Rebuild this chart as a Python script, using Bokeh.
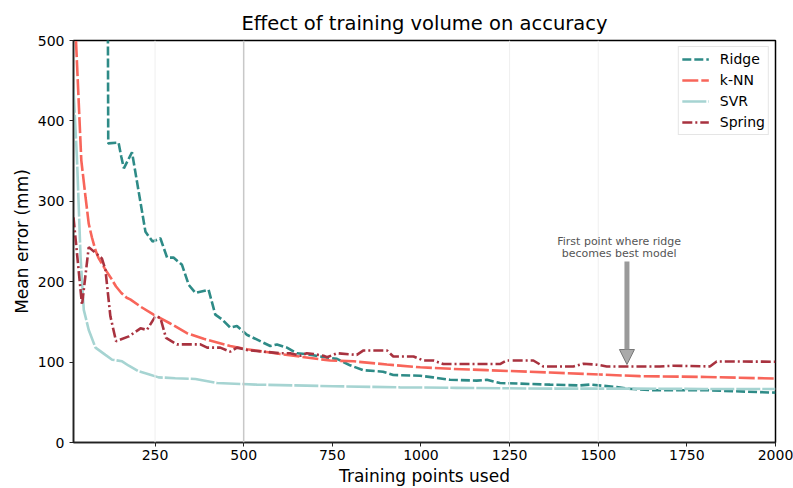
from bokeh.plotting import figure
from bokeh.models import Range1d, FixedTicker, Span, Label, Arrow, NormalHead, Legend, LegendItem
from bokeh.embed import file_html
from bokeh.resources import INLINE

# ---- data ----
ridge_x = [100, 118, 147, 155, 162, 185, 223, 243, 265, 284, 302, 326, 345, 364, 401, 420, 439, 462, 481, 509, 528,
           575, 594, 622, 650, 678, 716, 763, 800, 837, 893, 922, 998, 1034, 1082, 1157, 1186, 1223, 1364, 1449,
           1477, 1552, 1580, 1654, 1806, 2000]
ridge_y = [3000, 372, 373, 355, 341, 361, 262, 250, 254, 230, 230, 221, 196, 186, 190, 159, 153, 143, 145, 134, 130,
           120, 122, 118, 111, 110, 107, 104, 96, 90, 88, 84, 83, 81, 78, 77, 78, 74, 72, 71,
           72, 69, 67, 65, 65, 62]

knn_x = [20, 27, 42, 54, 63, 72, 82, 90, 110, 125, 140, 155, 170, 180, 209, 246, 293, 340, 387, 462, 509, 603,
         744, 810, 904, 998, 1092, 1186, 1364, 1505, 1618, 1806, 2000]
knn_y = [570, 500, 351, 305, 272, 255, 239, 230, 215, 205, 194, 186, 180, 178, 169, 159, 148, 136, 129, 120, 116, 110,
         102, 101, 97, 93.5, 91.5, 90, 87, 84.5, 82.5, 81.5, 79.5]

svr_x = [20, 30, 40, 49, 63, 82, 110, 129, 157, 176, 204, 232, 260, 307, 364, 425, 537, 753, 941, 1100, 1364,
         1600, 1800, 2000]
svr_y = [440, 351, 230, 165, 140, 118, 109, 103, 101, 95.5, 88.5, 85, 81, 80, 79, 74, 72, 70, 68.6, 68, 67,
         67, 66.5, 66.5]

spring_x = [20, 44, 63, 100, 110, 124, 140, 176, 209, 227, 251, 265, 281, 312, 378, 397, 434, 462, 481, 509, 556,
            603, 631, 660, 678, 697, 725, 735, 763, 819, 838, 904, 922, 979, 1007, 1035, 1063, 1223, 1242, 1317,
            1345, 1430, 1458, 1496, 1524, 1674, 1712, 1815, 1834, 2000]
spring_y = [280, 171, 243, 229, 215, 157, 126, 132, 142, 140, 157, 155, 130, 122, 122, 118, 118, 113, 118, 115, 113,
            111, 111, 108, 111, 110, 108, 106, 111, 109, 114.5, 114.5, 107, 107, 102, 102, 97.6, 97.6, 102, 102,
            94.6, 94.6, 98, 96.8, 94.6, 94.6, 95.5, 94.6, 100.8, 100.5]

x_ticks = [250, 500, 750, 1000, 1250, 1500, 1750, 2000]
y_ticks = [0, 100, 200, 300, 400, 500]

FONT = "DejaVu Sans"

p = figure(width=793, height=488, output_backend="svg", toolbar_location=None,
           x_range=Range1d(20, 2000), y_range=Range1d(0, 500),
           min_border_left=73, min_border_right=18, min_border_top=40, min_border_bottom=45,
           title="Effect of training volume on accuracy")
p.background_fill_color = "white"
p.border_fill_color = "white"
p.outline_line_color = "black"
p.outline_line_width = 1.5
p.xgrid.visible = False
p.ygrid.visible = False

p.title.align = "center"
p.title.text_font = FONT
p.title.text_font_size = "19.5px"
p.title.text_font_style = "normal"
p.title.text_color = "black"
p.title.standoff = 12

for ax in (p.xaxis[0], p.yaxis[0]):
    ax.axis_line_color = "#222222"
    ax.axis_line_width = 1.5
    ax.major_tick_line_color = "#222222"
    ax.major_tick_out = 4
    ax.major_tick_in = 0
    ax.minor_tick_out = 0
    ax.minor_tick_in = 0
    ax.major_label_text_font = FONT
    ax.major_label_text_font_size = "14px"
    ax.major_label_text_color = "black"
    ax.axis_label_text_font = FONT
    ax.axis_label_text_font_size = "17px"
    ax.axis_label_text_font_style = "normal"
    ax.axis_label_text_color = "black"

p.xaxis[0].ticker = FixedTicker(ticks=x_ticks)
p.yaxis[0].ticker = FixedTicker(ticks=y_ticks)
p.xaxis[0].axis_label = "Training points used"
p.yaxis[0].axis_label = "Mean error (mm)"
p.xaxis[0].major_label_standoff = 3
p.xaxis[0].axis_label_standoff = 3
p.yaxis[0].major_label_standoff = 5
p.yaxis[0].axis_label_standoff = 3

# vertical reference lines
for loc in (250, 1250, 1500):
    p.add_layout(Span(location=loc, dimension="height", line_color="#efefef", line_width=1))
p.add_layout(Span(location=500, dimension="height", line_color="#c8c8c8", line_width=1.5))

r_ridge = p.line(ridge_x, ridge_y, line_color="#2e8b87", line_width=2.6, line_dash="9 3")
r_knn = p.line(knn_x, knn_y, line_color="#f8655a", line_width=2.6, line_dash="16 3")
r_svr = p.line(svr_x, svr_y, line_color="#a6d4d2", line_width=2.6, line_dash="24 2")
r_spring = p.line(spring_x, spring_y, line_color="#a8323f", line_width=2.6, line_dash="10 3 2 3")

legend = Legend(items=[
    LegendItem(label="Ridge", renderers=[r_ridge]),
    LegendItem(label="k-NN", renderers=[r_knn]),
    LegendItem(label="SVR", renderers=[r_svr]),
    LegendItem(label="Spring", renderers=[r_spring]),
], location="top_right")
legend.label_text_font = FONT
legend.label_text_font_size = "14px"
legend.label_text_color = "black"
legend.glyph_width = 27
legend.glyph_height = 18
legend.label_height = 18
legend.label_standoff = 11
legend.spacing = 3
legend.padding = 3
legend.margin = 6
legend.border_line_color = "#cccccc"
legend.border_line_width = 1
legend.background_fill_color = "white"
legend.background_fill_alpha = 0.9
p.add_layout(legend)

# annotation
p.add_layout(Arrow(end=NormalHead(size=15, fill_color="#aaaaaa", line_color="#777777", line_width=1),
                   x_start=1581, y_start=225, x_end=1581, y_end=97,
                   line_color="#9a9a9a", line_width=5))
p.add_layout(Label(x=1559, y=250.5, text="First point where ridge", text_align="center",
                   text_baseline="middle", text_font=FONT, text_font_size="11px", text_color="#555555"))
p.add_layout(Label(x=1559, y=234.5, text="becomes best model", text_align="center",
                   text_baseline="middle", text_font=FONT, text_font_size="11px", text_color="#555555"))

open("out.html", "w").write(file_html(p, INLINE))
